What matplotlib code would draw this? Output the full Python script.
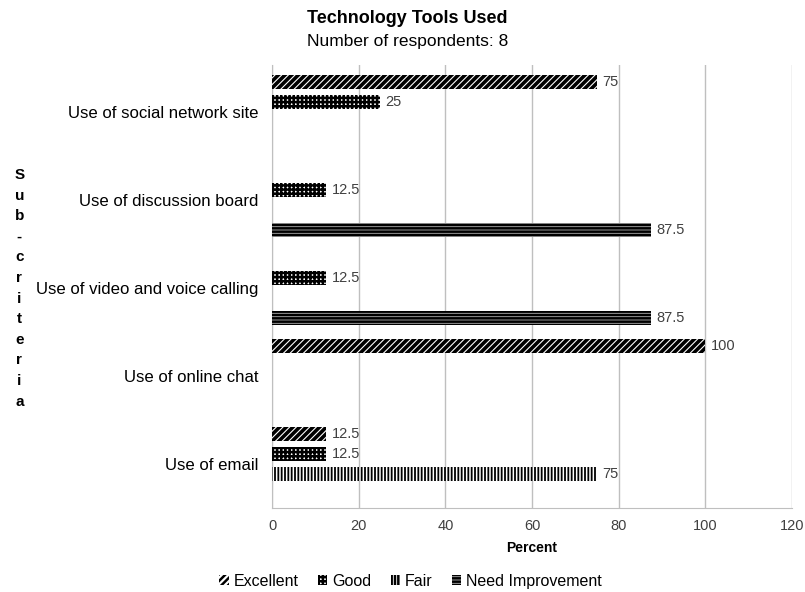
import matplotlib
matplotlib.use("Agg")
import matplotlib.pyplot as plt
import numpy as np
from matplotlib.patches import Patch

plt.rcParams['font.family'] = ['Liberation Sans', 'DejaVu Sans']

categories = ["Use of email", "Use of online chat", "Use of video and voice calling",
              "Use of discussion board", "Use of social network site"]
series_names = ["Excellent", "Good", "Fair", "Need Improvement"]
excellent = [12.5, 100, 0, 0, 75]
good = [12.5, 0, 12.5, 12.5, 25]
fair = [75, 0, 0, 0, 0]
need_improvement = [0, 0, 87.5, 87.5, 0]
xticks = [0, 20, 40, 60, 80, 100, 120]

series = [excellent, good, fair, need_improvement]
hatches = ['/////', '++++', '|||||', '-----']
hatch_lws = [2.6, 1.8, 1.3, 1.8]
faces = ['white', 'white', 'white', '#B0B0B0']

fig = plt.figure(figsize=(8.05, 5.92), dpi=100)
ax = fig.add_axes([0.338, 0.142, 0.646, 0.748])

y = np.arange(len(categories))
slot = 0.227
h = 0.16
offsets = [1.5, 0.5, -0.5, -1.5]
handles = []
for vals, hat, hlw, fc, off, name in zip(series, hatches, hatch_lws, faces, offsets, series_names):
    pos = y + off * slot
    plt.rcParams['hatch.linewidth'] = hlw
    ax.barh(pos, vals, height=h, color=fc, edgecolor='black', linewidth=0,
            hatch=hat, zorder=3, label=name)
    handles.append(Patch(facecolor=fc, edgecolor='black', linewidth=0, hatch=hat))
    for p, v in zip(pos, vals):
        if v > 0:
            ax.text(v + 1.2, p, f"{v:g}", va='center', ha='left', fontsize=10.5,
                    color='#404040', zorder=4)

ax.set_xlim(0, 120)
ax.set_ylim(-0.5, 4.53)
ax.set_xticks(xticks)
ax.set_xticklabels([str(t) for t in xticks], fontsize=10.5, color='#404040')
ax.set_yticks(y)
ax.set_yticklabels(categories, fontsize=12.1, color='black')
ax.tick_params(axis='both', length=0)
ax.tick_params(axis='y', pad=10)
ax.tick_params(axis='x', pad=8)
ax.grid(axis='x', color='#BFBFBF', linewidth=1, zorder=0)
for s in ['top', 'right']:
    ax.spines[s].set_visible(False)
for s in ['left', 'bottom']:
    ax.spines[s].set_color('#BFBFBF')
ax.set_xlabel("Percent", fontsize=10, fontweight='bold', labelpad=6)

fig.text(0.024, 0.513, "\n".join("Sub-criteria"), ha='center', va='center',
         fontsize=11, fontweight='bold', linespacing=1.6)

fig.text(0.506, 0.968, "Technology Tools Used", ha='center', va='center',
         fontsize=13, fontweight='bold')
fig.text(0.506, 0.930, "Number of respondents: 8", ha='center', va='center',
         fontsize=12.5)

fig.legend(handles, series_names, loc='center', bbox_to_anchor=(0.51, 0.018),
           ncol=4, frameon=False, fontsize=11.5, handlelength=0.6, handleheight=0.6,
           handletextpad=0.3, columnspacing=1.2)

fig.savefig("out.png", dpi=100)
